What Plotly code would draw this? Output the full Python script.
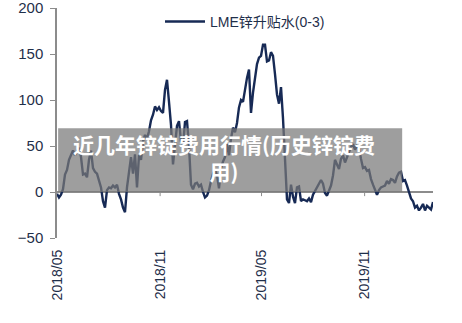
import pandas as pd
import plotly.graph_objects as go

series_name = "LME锌升贴水(0-3)"
start_date = "2018-05-01"
end_date = "2020-03-02"
values = [
    -2, -6, -3, 3, 19, 24, 35, 41, 45, 40, 45, 48, 38, 19, 20, 16, 35, 45, 26, 22,
    20, 12, 5, -10, -17, 2, 5, 4, 7, 5, 8, -2, -8, -17, -22, 5, 19, 38, 20, 41,
    5, 40, 35, 55, 62, 58, 66, 78, 84, 93, 89, 92, 88, 86, 111, 122, 98, 73, 30, 55,
    72, 77, 55, 50, 76, 77, 50, 8, 3, 9, 10, 6, 8, 0, -6, -4, 2, 12, 20, 24,
    18, 4, 26, 33, 38, 52, 40, 58, 70, 65, 75, 92, 100, 98, 113, 124, 133, 86, 108, 127,
    139, 146, 148, 160, 160, 142, 143, 152, 148, 128, 106, 96, 114, 80, 40, -8, -12, 8, -5, -12,
    5, 6, -10, -8, -9, -10, -7, -11, -3, 1, 5, 8, 13, 9, -1, -4, 2, 7, 18, 35,
    30, 25, 36, 40, 32, 38, 44, 49, 52, 46, 50, 48, 36, 26, 27, 23, 24, 14, 8, 3,
    -3, 2, 5, 6, 7, 12, 9, 14, 13, 10, 17, 21, 22, 12, 13, 7, 1, -7, -10, -17,
    -15, -20, -17, -13, -20, -15, -17, -19, -11,
]
dates = pd.date_range(start_date, end_date, periods=len(values))
tick_dates = ["2018-05-01", "2018-11-01", "2019-05-01", "2019-11-01"]
tick_labels = ["2018/05", "2018/11", "2019/05", "2019/11"]
y_ticks = [-50, 0, 50, 100, 150, 200]
watermark = "近几年锌锭费用行情(历史锌锭费<br>用)"

navy = "#172a55"
text_col = "#1f2f4a"
axis_gray = "#8c8c8c"
font_fam = "Liberation Sans, Arial, Noto Sans CJK SC, sans-serif"

fig = go.Figure()
fig.add_trace(go.Scatter(
    x=dates, y=values, mode="lines", name=series_name,
    line=dict(color=navy, width=2.4),
))

shapes = []
for d in tick_dates[1:]:
    shapes.append(dict(type="line", xref="x", yref="y", x0=d, x1=d, y0=0, y1=-4.5,
                       line=dict(color=axis_gray, width=1)))
# watermark box
shapes.append(dict(type="rect", xref="paper", yref="paper", x0=0.003, x1=0.918,
                   y0=0.2, y1=0.477, fillcolor="rgba(120,120,120,0.72)",
                   line=dict(width=0), layer="above"))

fig.update_layout(
    width=462, height=323,
    margin=dict(l=57, r=29, t=7, b=85),
    paper_bgcolor="white", plot_bgcolor="white",
    font=dict(family=font_fam, size=14, color=text_col),
    showlegend=True,
    legend=dict(orientation="h", x=0.5, xanchor="center", y=1.005, yanchor="top",
                font=dict(size=14, color=text_col), bgcolor="rgba(0,0,0,0)",
                itemwidth=40),
    xaxis=dict(
        type="date", range=[start_date, end_date], automargin=False,
        tickvals=tick_dates, ticktext=tick_labels, tickangle=-90,
        showgrid=False, showline=False, zeroline=False, ticks="",
        tickfont=dict(size=14, color=text_col), ticklabelstandoff=8,
    ),
    yaxis=dict(
        range=[-50, 200], tickvals=y_ticks, showgrid=False, automargin=False,
        showline=True, linecolor=axis_gray, linewidth=1.5,
        ticks="outside", ticklen=5, tickcolor=axis_gray,
        zeroline=True, zerolinecolor=axis_gray, zerolinewidth=1.5,
        tickfont=dict(size=15, color=text_col), ticklabelstandoff=4,
        ticklabeloverflow="allow",
    ),
    shapes=shapes,
    annotations=[dict(
        text=watermark, xref="paper", yref="paper", x=0.445, y=0.35,
        xanchor="center", yanchor="middle", showarrow=False, align="center",
        font=dict(family="Noto Sans CJK SC, sans-serif", size=21, color="white",
                  weight="bold"),
    )],
)

fig.write_html("out.html")
